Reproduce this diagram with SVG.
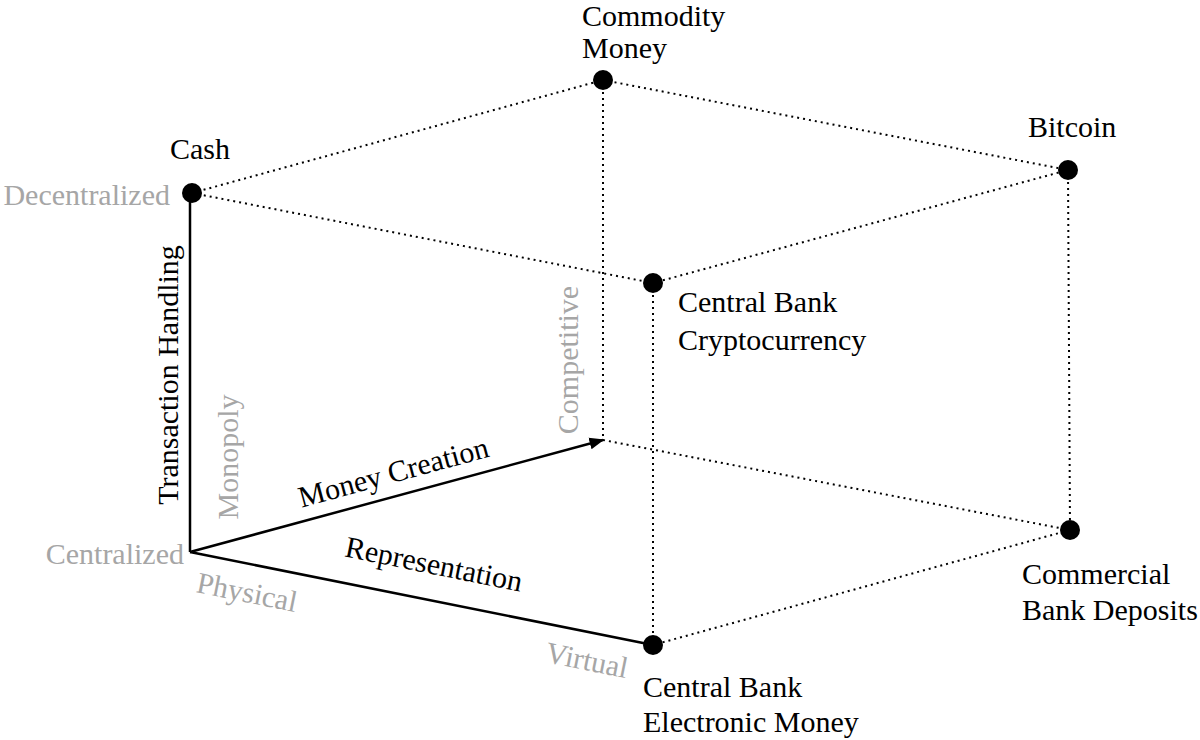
<svg xmlns="http://www.w3.org/2000/svg" width="1200" height="740" viewBox="0 0 1200 740">
<style>
text{font-family:"Liberation Serif",serif;font-size:30px;fill:#000}
.g{fill:#a6a6a6}
.d{stroke:#000;stroke-width:2;stroke-dasharray:2 4;fill:none}
.s{stroke:#000;stroke-width:2.5;fill:none}
circle{fill:#000}
</style>
<defs><marker id="a" viewBox="0 0 10 10" refX="9" refY="5" markerWidth="6" markerHeight="6" orient="auto"><path d="M0,1 L10,5 L0,9z"/></marker></defs>
<rect width="1200" height="740" fill="#fff"/>
<g id="connectors">
<path class="d" d="M192,193 L603,80 L1068,170 M192,193 L653,283 L1068,170 M603,80 L603,440 L1070,530 M1068,170 L1070,530 M653,283 L653,645 L1070,530"/>
<path class="s" d="M190,552 L190,193 M190,552 L653,645"/>
<path class="s" d="M190,552 L603,440" marker-end="url(#a)"/>
</g>
<g id="cash"><circle cx="192" cy="193" r="10"/><text x="170" y="159">Cash</text></g>
<g id="commodity"><circle cx="603" cy="80" r="10"/><text x="582" y="26">Commodity</text><text x="582" y="58">Money</text></g>
<g id="bitcoin"><circle cx="1068" cy="170" r="10"/><text x="1028" y="137">Bitcoin</text></g>
<g id="cbcc"><circle cx="653" cy="283" r="10"/><text x="678" y="312">Central Bank</text><text x="678" y="350">Cryptocurrency</text></g>
<g id="cbd"><circle cx="1070" cy="530" r="10"/><text x="1022" y="584">Commercial</text><text x="1022" y="620">Bank Deposits</text></g>
<g id="cbem"><circle cx="653" cy="645" r="10"/><text x="643" y="697">Central Bank</text><text x="643" y="732">Electronic Money</text></g>
<g id="labels">
<text class="g" x="170" y="205" text-anchor="end">Decentralized</text>
<text class="g" x="184" y="564" text-anchor="end">Centralized</text>
<text transform="translate(178,375) rotate(-90)" text-anchor="middle">Transaction Handling</text>
<text class="g" transform="translate(238,457) rotate(-90)" text-anchor="middle">Monopoly</text>
<text class="g" transform="translate(578,360) rotate(-90)" text-anchor="middle">Competitive</text>
<text transform="translate(396,482) rotate(-15.2)" text-anchor="middle">Money Creation</text>
<text transform="translate(432,574) rotate(11.4)" text-anchor="middle">Representation</text>
<text class="g" transform="translate(245,602) rotate(11.4)" text-anchor="middle">Physical</text>
<text class="g" transform="translate(585,670) rotate(11.4)" text-anchor="middle">Virtual</text>
</g>
</svg>
